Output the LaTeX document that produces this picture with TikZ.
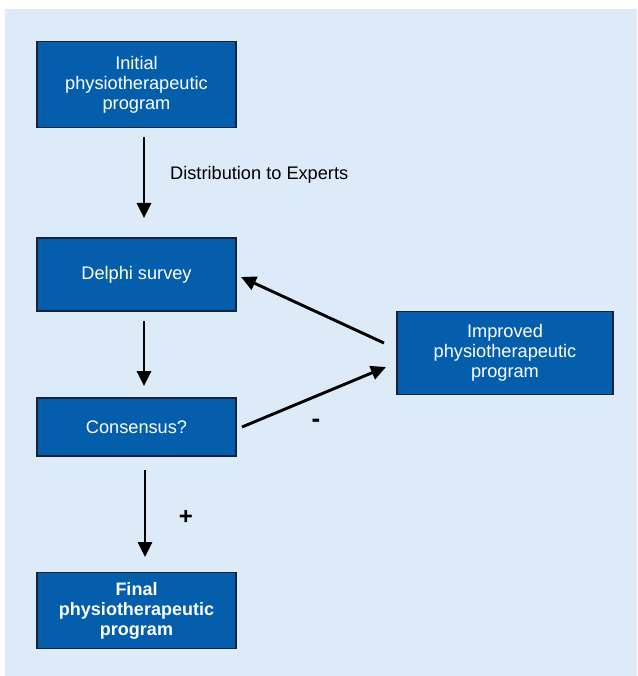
\documentclass[tikz,border=0pt]{standalone}
\usepackage{fontspec}
\setmainfont{Liberation Sans}
\usetikzlibrary{arrows.meta}
\definecolor{bgblue}{RGB}{221,234,247}
\definecolor{boxblue}{RGB}{4,94,172}
\definecolor{boxedge}{RGB}{25,35,55}
\begin{document}
\begin{tikzpicture}[x=1pt,y=-1pt,
  box/.style={draw=boxedge,line width=1.4pt,fill=boxblue,text=white,
    align=center,font=\fontsize{18.2}{20}\selectfont,inner sep=0pt},
  conn/.style={line width=2.9pt,-{Triangle[length=15pt,width=14pt]}},
  lbl/.style={font=\fontsize{18.2}{20}\selectfont,text=black}]
\useasboundingbox (0,0) rectangle (637,676);
\fill[bgblue] (5,9) rectangle (637,676);
\node[box,minimum width=199pt,minimum height=86pt] (init) at (136.5,84.5) {Initial\\physiotherapeutic\\program};
\node[box,minimum width=199pt,minimum height=73pt] (delphi) at (136.5,274.5) {Delphi survey};
\node[box,minimum width=199pt,minimum height=58pt] (cons) at (136.5,427) {Consensus?};
\node[box,minimum width=199pt,minimum height=76pt,font=\fontsize{18}{20}\selectfont\bfseries] (final) at (136.5,610.5) {Final\\physiotherapeutic\\program};
\node[box,minimum width=216pt,minimum height=83pt] (impr) at (505,353) {Improved\\physiotherapeutic\\program};
\coordinate (a1s) at (144,137); \coordinate (a1e) at (144,218);
\coordinate (a2s) at (144,321); \coordinate (a2e) at (144,386);
\coordinate (a3s) at (145,470); \coordinate (a3e) at (145,557);
\coordinate (d1s) at (384,343); \coordinate (d1e) at (241,277);
\coordinate (d2s) at (242,427); \coordinate (d2e) at (386,367);
\draw[conn] (a1s) -- (a1e);
\draw[conn] (a2s) -- (a2e);
\draw[conn] (a3s) -- (a3e);
\draw[conn] (d1s) -- (d1e);
\draw[conn] (d2s) -- (d2e);
\node[lbl,anchor=west,inner sep=0pt] (dist) at (170,175) {Distribution to Experts};
\node[lbl,font=\fontsize{24}{24}\selectfont\bfseries] (plus) at (186,517) {+};
\node[lbl,font=\fontsize{26}{26}\selectfont\bfseries] (minus) at (316,423) {-};
\end{tikzpicture}
\end{document}
